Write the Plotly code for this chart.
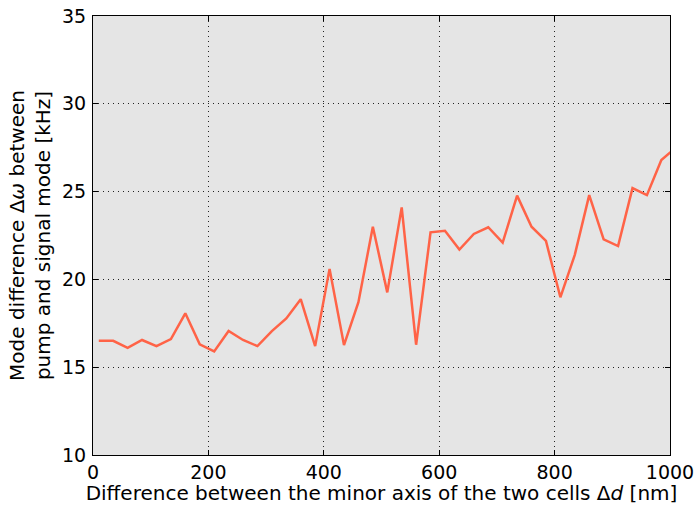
import plotly.graph_objects as go

delta_d = [10, 35, 60, 85, 110, 135, 160, 185, 210, 235, 260, 285, 310, 335, 360, 385,
           410, 435, 460, 485, 510, 535, 560, 585, 610, 635, 660, 685, 710, 735, 760, 785,
           810, 835, 860, 885, 910, 935, 960, 985, 1010]
delta_omega = [16.5, 16.5, 16.1, 16.55, 16.2, 16.6, 18.07, 16.3, 15.9, 17.06, 16.55, 16.2,
               17.06, 17.78, 18.87, 16.2, 20.6, 16.26, 18.7, 23.0, 19.26, 24.1, 16.28, 22.68,
               22.77, 21.7, 22.59, 22.97, 22.1, 24.77, 23.0, 22.19, 18.98, 21.4, 24.8, 22.28,
               21.9, 25.2, 24.8, 26.8, 27.5]

x_ticks = [0, 200, 400, 600, 800, 1000]
y_ticks = [10, 15, 20, 25, 30, 35]

fig = go.Figure()
fig.add_trace(go.Scatter(x=delta_d, y=delta_omega, mode="lines",
                         line=dict(color="#FF6347", width=2.5), showlegend=False))

axis_common = dict(
    showline=True, linecolor="black", linewidth=1, mirror="allticks",
    ticks="inside", ticklen=5, tickcolor="black", tickwidth=1,
    showgrid=True, gridcolor="#222222", griddash="1px,4px", gridwidth=1,
    zeroline=False, automargin=False,
    tickfont=dict(family="DejaVu Sans", size=19, color="black"),
)

fig.update_xaxes(range=[0, 1000], tickvals=x_ticks, ticklabelstandoff=0, **axis_common,
                 title=dict(text="Difference between the minor axis of the two cells Δ<i>d</i> [nm]",
                            font=dict(family="DejaVu Sans", size=20, color="black"),
                            standoff=5))
fig.update_yaxes(range=[10, 35], tickvals=y_ticks, ticklabelstandoff=2, **axis_common,
                 title=dict(text="Mode difference Δ<i>ω</i> between<br>pump and signal mode [kHz]",
                            font=dict(family="DejaVu Sans", size=20, color="black"),
                            standoff=6))

fig.update_layout(
    width=697, height=505,
    margin=dict(l=93, r=27, t=16, b=50),
    paper_bgcolor="white", plot_bgcolor="#E5E5E5",
    font=dict(family="DejaVu Sans", color="black"),
)

fig.write_html("out.html", config={"displayModeBar": False},
               post_script="document.body.style.margin='0';document.body.style.padding='0';")
